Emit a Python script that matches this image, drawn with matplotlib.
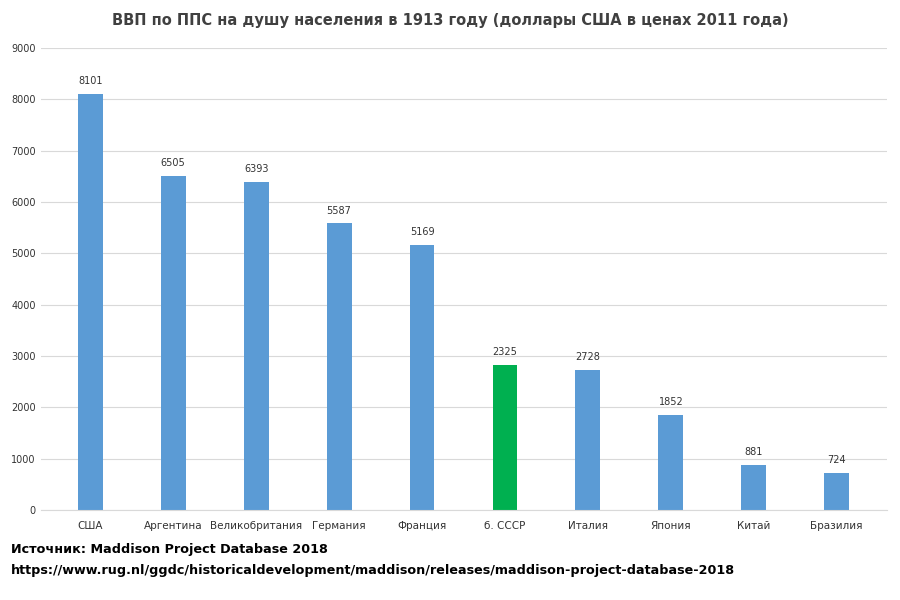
import matplotlib.pyplot as plt

countries = ['США', 'Аргентина', 'Великобритания', 'Германия', 'Франция',
             'б. СССР', 'Италия', 'Япония', 'Китай', 'Бразилия']
gdp = [8101, 6505, 6393, 5587, 5169, 2825, 2728, 1852, 881, 724]
bar_labels = ['8101', '6505', '6393', '5587', '5169', '2325', '2728', '1852', '881', '724']

colors = ['#5b9bd5'] * len(countries)
colors[5] = '#00b050'

fig = plt.figure(figsize=(9, 6), dpi=100)
ax = fig.add_axes([0.045, 0.15, 0.94, 0.77])
x = range(len(countries))
ax.bar(x, gdp, width=0.3, color=colors, zorder=2)
for i, v in enumerate(gdp):
    ax.text(i, v + 150, bar_labels[i], ha='center', va='bottom', fontsize=7, color='#333333')

ax.set_ylim(0, 9000)
ax.set_xlim(-0.6, len(countries) - 0.4)
ax.set_yticks(range(0, 9001, 1000))
ax.set_xticks(list(x))
ax.set_xticklabels(countries, fontsize=7.5, color='#333333')
ax.tick_params(axis='y', labelsize=7, colors='#333333', length=0)
ax.tick_params(axis='x', length=0, pad=8)
ax.grid(axis='y', color='#d9d9d9', linewidth=0.8, zorder=0)
for s in ['top', 'right', 'left']:
    ax.spines[s].set_visible(False)
ax.spines['bottom'].set_color('#d9d9d9')

fig.text(0.5, 0.965, 'ВВП по ППС на душу населения в 1913 году (доллары США в ценах 2011 года)',
         ha='center', va='center', fontsize=10.5, color='#404040', fontweight='bold')
fig.text(0.012, 0.078, 'Источник: Maddison Project Database 2018', fontsize=9.2, fontweight='bold')
fig.text(0.012, 0.043, 'https://www.rug.nl/ggdc/historicaldevelopment/maddison/releases/maddison-project-database-2018',
         fontsize=9.2, fontweight='bold')

fig.savefig('out.png', dpi=100)
